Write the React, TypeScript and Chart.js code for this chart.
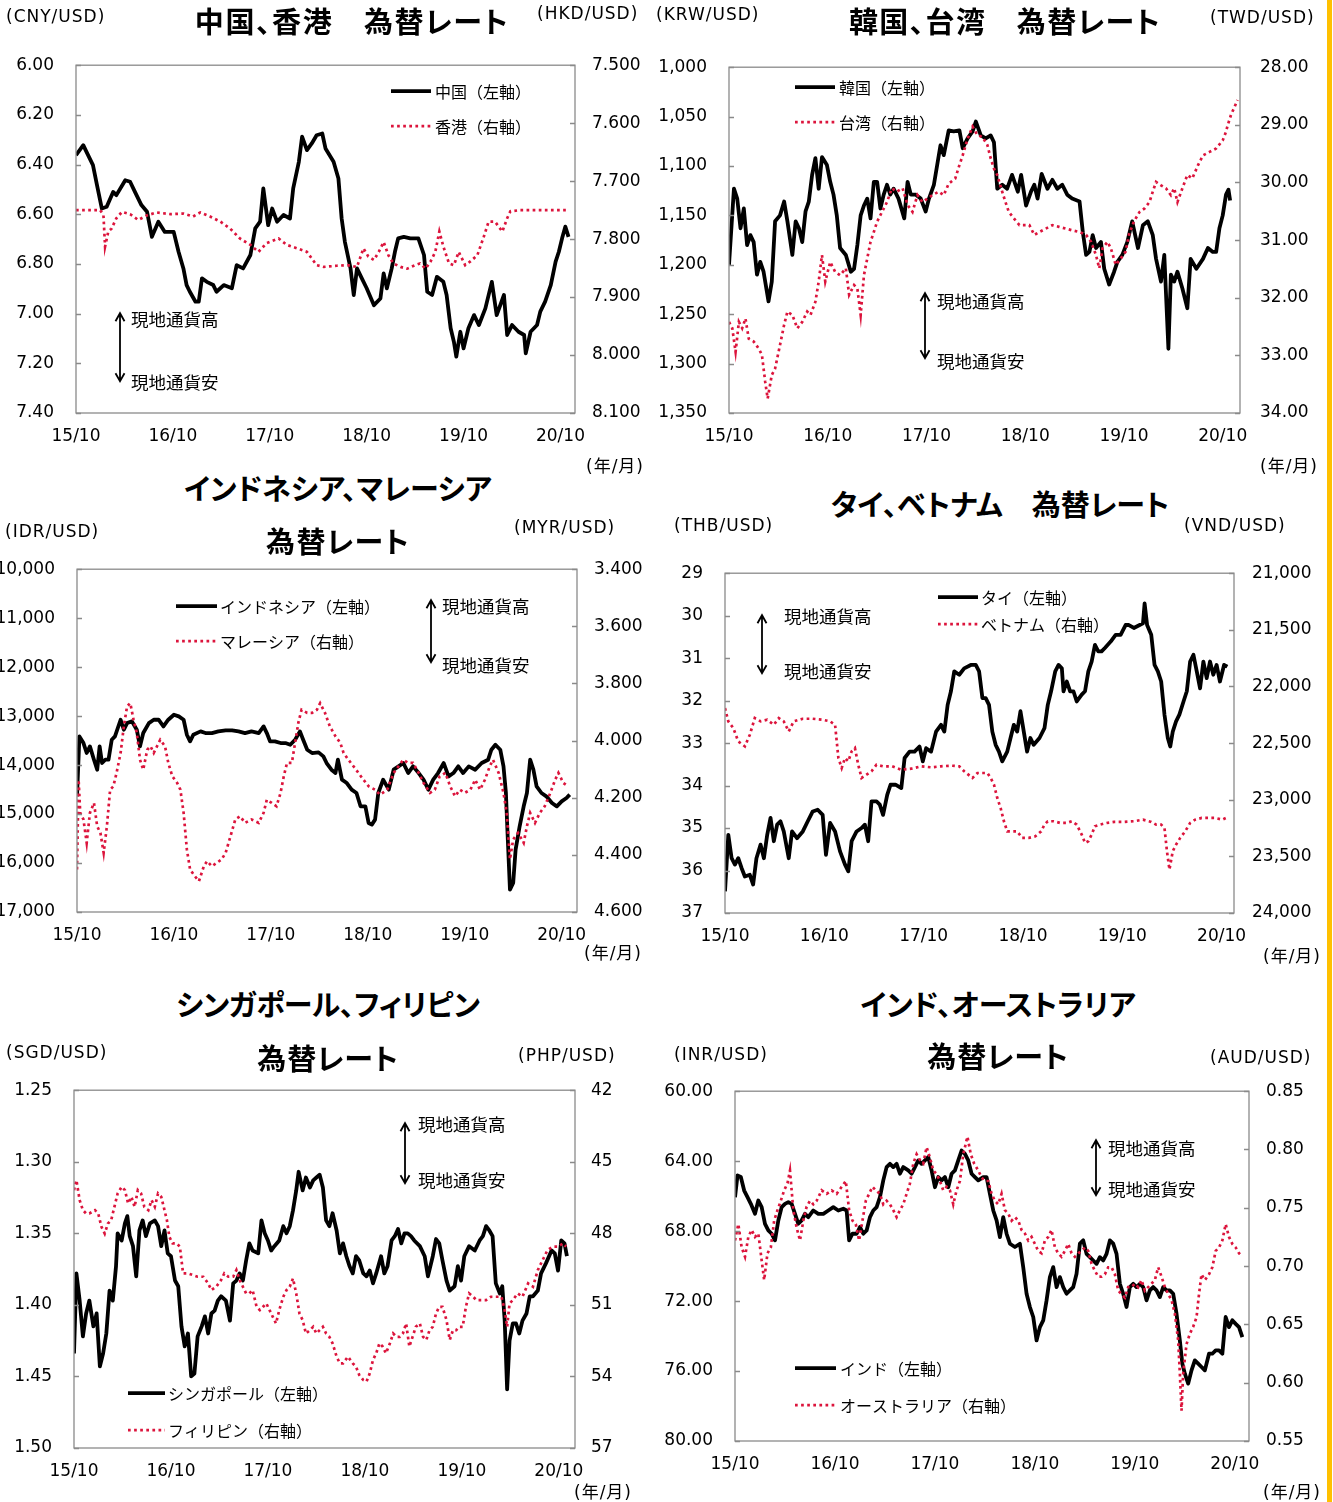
import React, { useEffect, useRef } from "react";
import { Chart, registerables } from "chart.js";

Chart.register(...registerables);

// ---------------------------------------------------------------------------
// Exchange-rate series. Each point is [months since 2015/10, rate vs USD].
// ---------------------------------------------------------------------------

const cnyRate: [number, number][] = [
  [0, 6.362], [0.9, 6.322], [1.3, 6.349], [2.1, 6.402], [2.6, 6.483], [3.2, 6.577], [3.8, 6.57], [4.6, 6.51], [5.0, 6.523], [6.1, 6.463],
  [6.7, 6.469], [7.3, 6.51], [8.1, 6.563], [8.8, 6.59], [9.4, 6.691], [10.2, 6.63], [11.0, 6.671], [12.1, 6.671], [12.7, 6.751], [13.3, 6.818],
  [13.7, 6.885], [14.1, 6.912], [14.8, 6.952], [15.2, 6.952], [15.6, 6.858], [16.2, 6.872], [17.0, 6.885], [17.4, 6.912], [18.3, 6.885], [19.3, 6.898],
  [19.9, 6.805], [20.7, 6.818], [21.6, 6.764], [22.2, 6.657], [22.8, 6.63], [23.2, 6.496], [23.8, 6.644], [24.3, 6.577], [24.9, 6.63], [25.7, 6.603],
  [26.5, 6.617], [26.9, 6.496], [27.6, 6.389], [28.0, 6.288], [28.6, 6.342], [29.2, 6.315], [29.8, 6.282], [30.5, 6.275], [30.9, 6.335], [31.9, 6.389],
  [32.5, 6.456], [32.9, 6.617], [33.3, 6.711], [34.0, 6.818], [34.4, 6.925], [34.8, 6.818], [35.4, 6.858], [36.0, 6.898], [36.9, 6.966], [37.7, 6.939],
  [38.1, 6.838], [38.5, 6.898], [39.1, 6.818], [39.5, 6.751], [39.9, 6.697], [40.6, 6.691], [41.4, 6.697], [42.4, 6.697], [43.1, 6.764], [43.5, 6.912],
  [44.1, 6.925], [44.7, 6.852], [45.5, 6.872], [45.9, 6.925], [46.4, 7.059], [46.8, 7.113], [47.1, 7.173], [47.6, 7.073], [48.0, 7.14], [48.6, 7.059],
  [49.3, 7.006], [49.9, 7.046], [50.7, 6.979], [51.5, 6.872], [52.1, 7.006], [53.0, 6.925], [53.4, 7.086], [54.0, 7.046], [54.8, 7.073], [55.5, 7.086],
  [55.7, 7.16], [56.3, 7.073], [57.1, 7.046], [57.5, 6.992], [58.1, 6.952], [58.8, 6.885], [59.4, 6.791], [59.8, 6.751], [60.2, 6.697], [60.6, 6.65],
  [61.0, 6.691],
];

const hkdRate: [number, number][] = [
  [0, 7.75], [3.0, 7.75], [3.4, 7.759], [3.6, 7.813], [4.0, 7.787], [4.4, 7.782], [5.0, 7.764], [5.7, 7.753], [6.7, 7.757], [7.7, 7.767],
  [8.8, 7.759], [10.0, 7.754], [11.7, 7.757], [13.3, 7.756], [14.5, 7.761], [15.4, 7.754], [16.6, 7.761], [17.9, 7.77], [19.1, 7.782], [20.3, 7.799],
  [21.6, 7.81], [22.6, 7.822], [23.6, 7.807], [25.1, 7.799], [26.1, 7.81], [27.4, 7.816], [28.6, 7.822], [29.8, 7.845], [30.7, 7.848], [32.3, 7.846],
  [33.6, 7.845], [34.8, 7.848], [35.6, 7.816], [36.2, 7.83], [36.9, 7.836], [37.5, 7.822], [38.1, 7.805], [38.7, 7.828], [39.3, 7.842], [40.2, 7.848],
  [41.0, 7.851], [42.0, 7.845], [42.6, 7.842], [43.3, 7.851], [43.9, 7.839], [44.5, 7.822], [45.0, 7.787], [45.5, 7.813], [46.2, 7.842], [46.8, 7.845],
  [47.4, 7.822], [48.2, 7.845], [48.8, 7.839], [49.7, 7.828], [50.5, 7.796], [51.1, 7.77], [51.9, 7.77], [52.8, 7.787], [53.4, 7.764], [53.8, 7.752],
  [55.0, 7.75], [57.1, 7.75], [60.8, 7.75],
];

const krwRate: [number, number][] = [
  [0, 1200], [0.6, 1123], [1.0, 1133], [1.4, 1163], [1.8, 1143], [2.2, 1180], [2.6, 1170], [3.0, 1177], [3.4, 1210], [3.8, 1197],
  [4.2, 1207], [4.8, 1237], [5.2, 1217], [5.6, 1156], [6.2, 1150], [6.7, 1136], [7.1, 1156], [7.7, 1190], [8.1, 1156], [8.5, 1163],
  [8.9, 1177], [9.3, 1146], [9.7, 1136], [10.1, 1109], [10.5, 1092], [10.9, 1123], [11.3, 1091], [11.9, 1099], [12.3, 1116], [12.7, 1129],
  [13.1, 1150], [13.5, 1183], [14.2, 1190], [14.8, 1207], [15.2, 1204], [15.6, 1180], [16.0, 1150], [16.4, 1140], [16.8, 1133], [17.2, 1153],
  [17.6, 1116], [18.0, 1116], [18.4, 1143], [18.8, 1129], [19.2, 1119], [19.6, 1129], [20.0, 1123], [20.6, 1133], [21.3, 1153], [21.7, 1116],
  [22.1, 1129], [22.7, 1129], [23.3, 1133], [23.9, 1146], [24.3, 1133], [24.9, 1119], [25.3, 1099], [25.7, 1079], [26.1, 1089], [26.7, 1064],
  [27.3, 1065], [28.0, 1064], [28.4, 1082], [29.0, 1072], [29.6, 1065], [30.0, 1055], [30.6, 1069], [31.2, 1072], [31.8, 1069], [32.2, 1076],
  [32.6, 1123], [33.2, 1119], [33.8, 1123], [34.4, 1109], [35.1, 1126], [35.5, 1109], [36.1, 1140], [36.7, 1126], [37.1, 1119], [37.5, 1133],
  [38.0, 1108], [38.7, 1123], [39.3, 1114], [39.9, 1123], [40.5, 1119], [41.1, 1129], [41.7, 1133], [42.6, 1136], [43.0, 1167], [43.4, 1190],
  [43.8, 1187], [44.2, 1170], [44.6, 1183], [45.2, 1177], [45.6, 1204], [46.2, 1220], [46.8, 1207], [47.2, 1197], [47.8, 1190], [48.4, 1177],
  [49.0, 1156], [49.7, 1183], [50.3, 1160], [50.9, 1156], [51.5, 1170], [51.9, 1194], [52.5, 1217], [52.9, 1190], [53.4, 1285], [53.7, 1210],
  [54.1, 1217], [54.5, 1207], [55.1, 1224], [55.7, 1244], [56.1, 1194], [56.8, 1204], [57.6, 1194], [58.2, 1183], [58.8, 1187], [59.2, 1187],
  [59.6, 1163], [60.0, 1150], [60.4, 1129], [60.7, 1124], [60.9, 1135],
];

const twdRate: [number, number][] = [
  [0, 32.42], [0.4, 32.53], [0.8, 32.94], [1.2, 32.42], [1.6, 32.53], [2.0, 32.36], [2.4, 32.71], [3.0, 32.76], [3.6, 32.88], [4.0, 32.99],
  [4.4, 33.46], [4.7, 33.75], [5.2, 33.34], [5.6, 33.23], [6.2, 32.82], [6.7, 32.47], [7.1, 32.24], [7.7, 32.3], [8.3, 32.53], [8.9, 32.42],
  [9.5, 32.24], [9.9, 32.3], [10.5, 32.07], [10.9, 31.72], [11.3, 31.26], [11.7, 31.72], [12.3, 31.38], [12.9, 31.55], [13.5, 31.61], [14.2, 31.49],
  [14.6, 31.95], [15.2, 31.78], [15.6, 31.84], [16.0, 32.3], [16.4, 31.61], [16.8, 31.32], [17.2, 31.03], [17.6, 30.86], [18.0, 30.68], [18.6, 30.51],
  [19.2, 30.34], [19.8, 30.1], [20.4, 30.16], [21.1, 30.1], [21.7, 30.39], [22.3, 30.51], [22.9, 30.22], [23.5, 30.34], [24.1, 30.28], [24.7, 30.22],
  [25.5, 30.16], [26.1, 30.22], [26.7, 30.02], [27.5, 29.93], [28.0, 29.7], [28.4, 29.53], [29.0, 29.24], [29.6, 29.03], [30.2, 29.18], [30.8, 29.21],
  [31.4, 29.35], [31.8, 29.58], [32.2, 29.76], [32.6, 29.87], [33.2, 30.16], [33.6, 30.34], [34.0, 30.51], [34.6, 30.62], [35.3, 30.74], [35.9, 30.74],
  [36.5, 30.74], [37.1, 30.91], [37.7, 30.86], [38.5, 30.8], [39.3, 30.74], [40.1, 30.77], [40.9, 30.8], [41.7, 30.83], [42.6, 30.86], [43.4, 30.91],
  [44.0, 31.03], [44.6, 31.26], [45.0, 31.49], [45.4, 31.14], [46.0, 31.03], [46.4, 31.14], [47.0, 31.43], [47.6, 31.32], [48.2, 31.2], [48.6, 30.91],
  [49.2, 30.68], [49.9, 30.51], [50.5, 30.45], [51.1, 30.34], [51.5, 30.16], [51.9, 29.99], [52.5, 30.05], [53.1, 30.1], [53.7, 30.22], [54.1, 30.1],
  [54.5, 30.34], [55.1, 30.1], [55.7, 29.87], [56.3, 29.93], [57.0, 29.7], [57.6, 29.53], [58.4, 29.47], [59.2, 29.41], [60.0, 29.27], [60.4, 29.12],
  [60.6, 29.01], [61.0, 28.83], [61.8, 28.57],
];

const idrRate: [number, number][] = [
  [0, 14638], [0.3, 13414], [0.8, 13550], [1.2, 13754], [1.6, 13618], [2.1, 13890], [2.5, 14094], [2.8, 13618], [3.1, 13958], [3.5, 13890],
  [3.9, 13890], [4.3, 13482], [4.7, 13414], [5.4, 13074], [5.8, 13278], [6.2, 13142], [6.8, 13108], [7.4, 13278], [7.8, 13618], [8.2, 13346],
  [8.9, 13142], [9.5, 13074], [10.1, 13074], [10.7, 13210], [11.3, 13074], [12.0, 12972], [12.6, 13006], [13.2, 13074], [13.6, 13380], [14.0, 13516],
  [14.4, 13380], [15.3, 13312], [15.9, 13346], [16.7, 13346], [17.5, 13312], [18.4, 13291], [19.2, 13291], [20.0, 13312], [20.8, 13346], [21.6, 13312],
  [22.5, 13346], [23.1, 13210], [23.5, 13346], [23.9, 13516], [24.5, 13516], [25.2, 13550], [25.8, 13550], [26.4, 13584], [27.0, 13482], [27.6, 13312],
  [28.0, 13482], [28.5, 13686], [29.1, 13754], [29.9, 13740], [30.5, 13822], [30.9, 13958], [31.5, 14094], [32.0, 14162], [32.3, 13890], [32.8, 14298],
  [33.4, 14366], [34.0, 14502], [34.6, 14570], [35.1, 14842], [35.7, 14842], [36.1, 15182], [36.5, 15216], [36.9, 15114], [37.3, 14570], [37.9, 14298],
  [38.6, 14502], [39.2, 14094], [39.8, 14026], [40.4, 13958], [41.0, 14162], [41.6, 14026], [42.3, 14162], [42.9, 14298], [43.5, 14502], [44.1, 14298],
  [44.7, 14162], [45.4, 13958], [46.0, 14230], [46.6, 14162], [47.2, 14026], [47.8, 14162], [48.5, 14026], [49.3, 14094], [50.1, 13958], [50.9, 13890],
  [51.3, 13686], [51.8, 13584], [52.4, 13686], [52.8, 14026], [53.1, 14570], [53.3, 15386], [53.6, 16542], [54.0, 16406], [54.3, 15726], [54.8, 15250],
  [55.3, 14842], [55.7, 14570], [56.1, 13890], [56.5, 14094], [56.9, 14434], [57.5, 14570], [58.1, 14638], [58.8, 14774], [59.4, 14842], [60.0, 14740],
  [60.6, 14672], [61.0, 14604],
];

const myrRate: [number, number][] = [
  [0, 4.451], [0.2, 4.137], [0.4, 4.253], [0.8, 4.276], [1.2, 4.358], [1.6, 4.253], [2.1, 4.218], [2.5, 4.3], [2.9, 4.323], [3.3, 4.393],
  [3.7, 4.3], [4.1, 4.172], [4.5, 4.16], [4.9, 4.113], [5.4, 4.043], [5.8, 3.95], [6.2, 3.88], [6.6, 3.869], [7.0, 3.927], [7.4, 3.973],
  [7.8, 4.067], [8.2, 4.102], [8.7, 4.032], [9.1, 4.02], [9.5, 4.043], [9.9, 4.02], [10.3, 3.997], [10.9, 4.02], [11.3, 4.078], [11.8, 4.125],
  [12.4, 4.148], [12.8, 4.172], [13.2, 4.253], [13.6, 4.381], [14.0, 4.451], [14.6, 4.475], [15.1, 4.492], [15.7, 4.44], [16.1, 4.422], [16.7, 4.44],
  [17.3, 4.428], [17.9, 4.416], [18.4, 4.393], [19.0, 4.335], [19.6, 4.276], [20.2, 4.265], [20.8, 4.288], [21.6, 4.276], [22.5, 4.288], [23.1, 4.253],
  [23.5, 4.207], [24.1, 4.218], [24.7, 4.23], [25.2, 4.183], [25.6, 4.125], [26.0, 4.078], [26.6, 4.078], [27.0, 4.008], [27.4, 3.938], [27.8, 3.892],
  [28.5, 3.903], [29.1, 3.903], [29.7, 3.892], [30.1, 3.869], [30.7, 3.903], [31.3, 3.95], [32.0, 3.985], [32.6, 4.008], [33.0, 4.043], [33.6, 4.067],
  [34.4, 4.096], [35.3, 4.131], [36.1, 4.16], [36.9, 4.172], [37.5, 4.189], [38.4, 4.172], [39.2, 4.113], [39.8, 4.09], [40.4, 4.067], [41.0, 4.078],
  [41.6, 4.078], [42.3, 4.113], [42.9, 4.148], [43.7, 4.183], [44.3, 4.172], [44.9, 4.125], [45.6, 4.113], [46.2, 4.16], [46.8, 4.195], [47.4, 4.172],
  [48.0, 4.183], [48.7, 4.172], [49.3, 4.137], [49.9, 4.172], [50.5, 4.137], [51.1, 4.09], [51.5, 4.067], [52.2, 4.113], [52.8, 4.183], [53.2, 4.253],
  [53.6, 4.416], [54.0, 4.346], [54.6, 4.323], [55.3, 4.358], [55.7, 4.3], [56.1, 4.253], [56.7, 4.288], [57.3, 4.253], [57.9, 4.23], [58.6, 4.183],
  [59.2, 4.137], [59.6, 4.113], [60.2, 4.148], [60.8, 4.16],
];

const thbRate: [number, number][] = [
  [0, 36.49], [0.4, 35.16], [0.8, 35.71], [1.2, 35.86], [1.6, 35.71], [2.0, 35.94], [2.4, 36.14], [3.0, 36.1], [3.4, 36.33], [3.8, 35.71],
  [4.3, 35.39], [4.7, 35.71], [5.1, 35.16], [5.5, 34.76], [5.9, 35.31], [6.3, 34.92], [6.7, 34.84], [7.1, 35.08], [7.7, 35.71], [8.1, 35.08],
  [8.7, 35.24], [9.4, 35.08], [10.0, 34.84], [10.6, 34.61], [11.2, 34.57], [11.8, 34.69], [12.2, 35.63], [12.7, 34.88], [13.3, 35.08], [13.9, 35.55],
  [14.5, 35.86], [14.9, 36.02], [15.3, 35.31], [15.9, 35.08], [16.5, 35.0], [16.9, 34.92], [17.3, 35.31], [17.7, 34.37], [18.3, 34.37], [18.7, 34.45],
  [19.1, 34.69], [19.6, 34.22], [20.0, 33.98], [20.6, 33.98], [21.3, 34.06], [21.7, 33.35], [22.3, 33.2], [22.9, 33.2], [23.5, 33.08], [23.9, 33.43],
  [24.3, 33.12], [24.9, 33.2], [25.5, 32.73], [26.1, 32.57], [26.5, 32.73], [26.9, 32.1], [27.3, 31.78], [27.7, 31.31], [28.3, 31.39], [28.9, 31.24],
  [29.7, 31.16], [30.3, 31.16], [30.7, 31.31], [31.1, 31.94], [31.5, 31.94], [31.9, 32.1], [32.3, 32.73], [32.7, 33.04], [33.1, 33.2], [33.5, 33.43],
  [34.1, 33.2], [34.5, 32.88], [34.9, 32.57], [35.3, 32.73], [35.7, 32.25], [36.1, 32.73], [36.5, 33.2], [36.9, 32.88], [37.3, 33.04], [38.0, 32.88],
  [38.6, 32.65], [39.0, 32.1], [39.4, 31.78], [39.9, 31.31], [40.3, 31.16], [40.7, 31.24], [40.9, 31.78], [41.3, 31.55], [41.7, 31.78], [42.1, 31.78],
  [42.5, 32.02], [43.1, 31.86], [43.5, 31.78], [43.9, 31.31], [44.3, 31.08], [44.7, 30.69], [45.1, 30.84], [45.5, 30.84], [45.9, 30.76], [46.6, 30.61],
  [47.2, 30.45], [47.8, 30.45], [48.4, 30.22], [48.8, 30.22], [49.4, 30.29], [50.1, 30.22], [50.5, 30.18], [50.7, 29.71], [51.0, 30.22], [51.5, 30.45],
  [51.9, 31.16], [52.3, 31.31], [52.7, 31.55], [53.1, 32.33], [53.5, 32.88], [53.8, 33.08], [54.1, 32.73], [54.5, 32.49], [54.9, 32.33], [55.4, 32.02],
  [55.8, 31.78], [56.2, 31.08], [56.6, 30.92], [57.0, 31.31], [57.4, 31.71], [57.8, 31.08], [58.2, 31.47], [58.6, 31.08], [59.0, 31.39], [59.4, 31.16],
  [59.8, 31.55], [60.3, 31.16], [60.7, 31.2],
];

const vndRate: [number, number][] = [
  [0, 22191], [0.4, 22308], [1.0, 22367], [1.6, 22485], [2.4, 22529], [3.0, 22426], [3.6, 22279], [4.3, 22308], [5.1, 22294], [5.9, 22338],
  [6.5, 22279], [7.1, 22308], [7.7, 22397], [8.3, 22308], [9.4, 22285], [10.6, 22285], [11.8, 22294], [12.7, 22308], [13.3, 22338], [13.7, 22632],
  [14.1, 22720], [14.5, 22632], [14.9, 22661], [15.3, 22573], [15.7, 22544], [16.1, 22691], [16.5, 22808], [17.1, 22779], [17.7, 22749], [18.3, 22691],
  [19.1, 22705], [20.2, 22705], [21.3, 22735], [22.5, 22726], [23.7, 22705], [24.9, 22714], [26.1, 22705], [27.3, 22699], [28.3, 22705], [28.9, 22749],
  [29.9, 22808], [30.5, 22764], [31.1, 22764], [31.7, 22764], [32.1, 22808], [32.5, 22867], [32.9, 22985], [33.3, 23073], [33.7, 23190], [34.1, 23279],
  [34.7, 23279], [35.3, 23279], [35.9, 23337], [36.7, 23337], [37.5, 23323], [38.2, 23279], [38.6, 23220], [39.0, 23190], [39.7, 23190], [40.5, 23205],
  [41.3, 23205], [41.9, 23190], [42.5, 23220], [43.1, 23308], [43.5, 23381], [43.9, 23367], [44.3, 23308], [44.7, 23234], [45.3, 23220], [46.1, 23205],
  [47.0, 23196], [48.2, 23196], [49.4, 23190], [50.5, 23176], [51.5, 23196], [52.1, 23220], [52.7, 23220], [53.1, 23249], [53.4, 23455], [53.7, 23617],
  [54.1, 23455], [54.5, 23396], [55.0, 23337], [55.6, 23279], [56.2, 23205], [56.8, 23176], [57.6, 23161], [58.4, 23161], [59.2, 23161], [60.1, 23176],
  [60.7, 23155],
];

const sgdRate: [number, number][] = [
  [0, 1.434], [0.3, 1.378], [0.7, 1.397], [1.1, 1.422], [1.5, 1.406], [1.9, 1.397], [2.4, 1.415], [2.8, 1.406], [3.2, 1.443], [3.6, 1.434],
  [4.0, 1.42], [4.4, 1.39], [4.8, 1.397], [5.2, 1.373], [5.4, 1.35], [5.9, 1.355], [6.3, 1.343], [6.6, 1.338], [6.9, 1.352], [7.3, 1.359],
  [7.7, 1.38], [8.1, 1.348], [8.5, 1.341], [8.9, 1.352], [9.4, 1.343], [10.0, 1.341], [10.4, 1.345], [10.8, 1.359], [11.2, 1.348], [11.6, 1.364],
  [12.0, 1.366], [12.5, 1.383], [12.9, 1.387], [13.3, 1.415], [13.7, 1.429], [14.1, 1.42], [14.5, 1.45], [14.9, 1.448], [15.3, 1.422], [15.8, 1.415],
  [16.2, 1.408], [16.6, 1.42], [17.0, 1.406], [17.4, 1.404], [17.8, 1.397], [18.2, 1.394], [18.8, 1.397], [19.3, 1.411], [19.7, 1.385], [20.1, 1.383],
  [20.5, 1.378], [20.9, 1.383], [21.3, 1.369], [21.7, 1.357], [22.1, 1.362], [22.8, 1.364], [23.2, 1.341], [23.6, 1.35], [24.0, 1.355], [24.4, 1.362],
  [24.8, 1.359], [25.4, 1.355], [25.9, 1.345], [26.3, 1.35], [26.7, 1.345], [27.1, 1.334], [27.5, 1.32], [27.8, 1.307], [28.3, 1.32], [28.7, 1.311],
  [29.2, 1.318], [29.6, 1.313], [30.0, 1.311], [30.4, 1.309], [30.8, 1.318], [31.2, 1.341], [31.6, 1.345], [32.0, 1.336], [32.5, 1.348], [32.9, 1.364],
  [33.3, 1.357], [33.7, 1.366], [34.1, 1.373], [34.5, 1.378], [34.9, 1.366], [35.3, 1.369], [35.8, 1.378], [36.2, 1.38], [36.6, 1.376], [37.0, 1.385],
  [37.4, 1.378], [38.0, 1.366], [38.4, 1.378], [38.8, 1.373], [39.3, 1.355], [39.7, 1.352], [40.1, 1.347], [40.5, 1.357], [40.9, 1.35], [41.3, 1.35],
  [41.7, 1.352], [42.1, 1.355], [42.8, 1.359], [43.4, 1.366], [43.8, 1.38], [44.4, 1.366], [44.8, 1.354], [45.2, 1.357], [45.6, 1.369], [46.1, 1.383],
  [46.5, 1.39], [47.1, 1.387], [47.5, 1.373], [47.9, 1.383], [48.3, 1.366], [48.9, 1.359], [49.6, 1.362], [50.2, 1.355], [50.6, 1.352], [51.0, 1.345],
  [51.4, 1.348], [51.8, 1.352], [52.2, 1.385], [52.7, 1.392], [53.0, 1.387], [53.3, 1.411], [53.6, 1.459], [53.9, 1.425], [54.3, 1.413], [54.7, 1.413],
  [55.1, 1.42], [55.5, 1.411], [56.0, 1.406], [56.4, 1.394], [56.8, 1.394], [57.4, 1.39], [57.8, 1.378], [58.4, 1.371], [59.1, 1.362], [59.5, 1.364],
  [59.9, 1.376], [60.3, 1.355], [60.7, 1.357], [61.0, 1.366],
];

const phpRate: [number, number][] = [
  [0, 46.19], [0.3, 45.77], [0.7, 46.61], [1.1, 47.03], [1.5, 47.17], [1.9, 47.17], [2.6, 47.03], [3.0, 47.17], [3.4, 47.73], [3.8, 48.01],
  [4.2, 47.59], [4.6, 47.45], [5.0, 46.89], [5.4, 46.33], [5.9, 46.05], [6.3, 46.19], [6.7, 46.75], [7.1, 46.47], [7.5, 46.89], [7.9, 46.19],
  [8.3, 46.33], [8.7, 46.89], [9.2, 47.03], [9.6, 46.61], [10.0, 46.89], [10.4, 46.33], [10.8, 46.47], [11.2, 47.03], [11.5, 47.45], [11.8, 48.15],
  [12.2, 48.42], [12.7, 48.42], [13.1, 48.56], [13.5, 49.68], [14.1, 49.68], [14.7, 49.75], [15.3, 49.82], [16.0, 49.82], [16.6, 50.1], [17.0, 50.38],
  [17.6, 50.24], [18.2, 49.96], [18.6, 49.68], [19.1, 49.82], [19.7, 49.82], [20.1, 49.54], [20.5, 49.96], [20.9, 50.24], [21.3, 50.52], [21.7, 50.52],
  [22.1, 50.38], [22.6, 51.08], [23.0, 51.22], [23.4, 51.08], [23.8, 50.94], [24.2, 51.22], [24.6, 51.5], [25.0, 51.78], [25.4, 51.22], [25.9, 50.66],
  [26.3, 50.38], [26.7, 50.24], [27.1, 49.89], [27.5, 50.52], [27.9, 51.36], [28.3, 51.64], [28.7, 52.2], [29.2, 52.06], [29.6, 51.92], [30.0, 52.2],
  [30.4, 52.06], [30.8, 51.92], [31.2, 52.2], [31.6, 52.34], [32.0, 52.61], [32.5, 53.17], [32.9, 53.45], [33.3, 53.45], [33.9, 53.17], [34.5, 53.45],
  [34.9, 53.59], [35.3, 53.94], [35.8, 54.15], [36.2, 54.22], [36.6, 53.87], [37.0, 53.31], [37.4, 53.03], [37.8, 52.61], [38.2, 52.75], [38.6, 53.03],
  [39.1, 52.61], [39.5, 52.2], [39.9, 52.34], [40.3, 52.34], [40.7, 52.2], [41.1, 51.78], [41.5, 52.75], [41.9, 52.34], [42.3, 51.92], [42.8, 51.78],
  [43.2, 52.34], [43.6, 52.47], [44.0, 52.06], [44.4, 51.92], [44.8, 51.36], [45.2, 51.08], [45.6, 51.08], [46.1, 51.64], [46.5, 52.47], [46.9, 52.06],
  [47.3, 52.06], [47.7, 51.92], [48.1, 51.92], [48.5, 51.08], [48.9, 50.52], [49.4, 50.66], [49.8, 50.8], [50.4, 50.8], [51.0, 50.8], [51.6, 50.66],
  [52.2, 50.66], [52.9, 50.66], [53.3, 51.22], [53.6, 51.92], [53.9, 50.94], [54.3, 50.8], [54.9, 50.52], [55.5, 50.66], [56.2, 50.1], [56.8, 50.24],
  [57.4, 49.54], [58.0, 49.12], [58.6, 48.7], [59.3, 48.56], [59.9, 48.56], [60.5, 48.42], [60.9, 48.56],
];

const inrRate: [number, number][] = [
  [0, 66.06], [0.3, 64.82], [0.7, 64.91], [1.1, 65.68], [1.5, 66.06], [1.9, 66.44], [2.4, 67.01], [2.8, 66.25], [3.2, 66.63], [3.6, 67.58],
  [4.0, 67.96], [4.4, 68.15], [4.8, 68.53], [5.2, 67.39], [5.6, 66.63], [6.0, 66.44], [6.4, 66.34], [6.8, 66.44], [7.2, 67.01], [7.6, 67.58],
  [8.0, 67.39], [8.4, 67.01], [8.8, 67.2], [9.4, 66.82], [10.0, 67.01], [10.6, 67.01], [11.2, 66.82], [11.8, 66.63], [12.4, 66.82], [13.0, 66.72],
  [13.4, 66.82], [13.7, 68.53], [14.1, 68.15], [14.6, 68.15], [15.0, 67.77], [15.4, 68.15], [15.8, 67.96], [16.2, 67.2], [16.6, 66.82], [17.0, 66.63],
  [17.4, 66.06], [17.8, 65.1], [18.2, 64.34], [18.6, 64.15], [19.0, 64.34], [19.4, 64.15], [19.8, 64.72], [20.2, 64.34], [20.8, 64.53], [21.2, 64.72],
  [21.6, 64.34], [22.0, 63.96], [22.4, 64.15], [22.8, 63.96], [23.2, 63.77], [23.6, 64.53], [24.0, 65.49], [24.4, 64.91], [24.8, 65.1], [25.2, 64.91],
  [25.6, 65.49], [26.0, 64.72], [26.4, 64.53], [26.8, 63.96], [27.2, 63.39], [27.6, 63.58], [28.0, 63.96], [28.4, 64.72], [28.8, 64.91], [29.2, 65.1],
  [29.8, 64.91], [30.2, 64.91], [30.6, 65.87], [31.0, 66.82], [31.4, 67.39], [31.8, 68.34], [32.2, 67.2], [32.6, 68.15], [33.0, 68.72], [33.6, 68.91],
  [34.2, 68.72], [34.6, 70.06], [35.0, 71.58], [35.4, 72.34], [35.8, 72.91], [36.2, 74.25], [36.6, 73.49], [37.0, 73.1], [37.4, 71.96], [37.8, 70.63],
  [38.2, 70.06], [38.6, 71.2], [39.0, 70.63], [39.4, 71.2], [39.8, 71.58], [40.2, 71.39], [40.6, 71.2], [41.0, 70.44], [41.4, 68.72], [41.8, 68.53],
  [42.2, 69.3], [42.6, 69.49], [43.0, 69.68], [43.4, 69.87], [43.8, 69.49], [44.2, 69.68], [44.6, 69.3], [45.0, 68.53], [45.4, 68.72], [45.8, 69.3],
  [46.2, 71.01], [46.6, 71.58], [47.0, 72.34], [47.4, 71.2], [47.8, 71.01], [48.2, 71.2], [48.6, 71.01], [49.0, 71.2], [49.4, 71.96], [49.8, 71.39],
  [50.2, 71.2], [50.6, 71.39], [51.0, 71.77], [51.4, 71.2], [51.8, 71.39], [52.2, 71.39], [52.6, 71.58], [53.0, 72.72], [53.4, 74.25], [53.7, 75.58],
  [54.0, 76.15], [54.4, 76.72], [54.8, 75.96], [55.2, 75.39], [55.6, 75.58], [56.0, 75.77], [56.4, 75.96], [56.9, 75.01], [57.3, 75.01], [57.7, 74.82],
  [58.1, 74.82], [58.5, 75.01], [58.9, 72.91], [59.3, 73.49], [59.7, 73.1], [60.1, 73.3], [60.5, 73.49], [60.9, 74.06],
];

const audRate: [number, number][] = [
  [0, 0.722], [0.4, 0.736], [0.8, 0.716], [1.2, 0.708], [1.6, 0.725], [2.0, 0.731], [2.4, 0.725], [2.8, 0.728], [3.2, 0.705], [3.5, 0.688],
  [3.9, 0.711], [4.3, 0.716], [4.7, 0.739], [5.1, 0.748], [5.5, 0.756], [5.9, 0.765], [6.3, 0.771], [6.6, 0.782], [7.0, 0.748], [7.4, 0.733],
  [7.8, 0.722], [8.2, 0.739], [8.6, 0.751], [9.0, 0.756], [9.4, 0.753], [9.8, 0.756], [10.4, 0.765], [11.0, 0.762], [11.6, 0.765], [12.2, 0.762],
  [12.8, 0.768], [13.3, 0.773], [13.7, 0.748], [14.1, 0.739], [14.5, 0.736], [14.9, 0.722], [15.3, 0.739], [15.7, 0.756], [16.1, 0.762], [16.5, 0.768],
  [16.9, 0.765], [17.4, 0.762], [17.8, 0.753], [18.2, 0.756], [18.6, 0.753], [19.0, 0.748], [19.4, 0.742], [19.8, 0.748], [20.2, 0.753], [20.6, 0.762],
  [21.0, 0.771], [21.4, 0.788], [21.8, 0.796], [22.2, 0.791], [22.6, 0.788], [23.0, 0.802], [23.4, 0.793], [23.8, 0.782], [24.2, 0.779], [24.6, 0.773],
  [25.0, 0.765], [25.4, 0.768], [25.8, 0.765], [26.2, 0.753], [26.6, 0.765], [27.0, 0.773], [27.4, 0.796], [27.7, 0.805], [27.9, 0.811], [28.3, 0.796],
  [28.7, 0.788], [29.2, 0.782], [29.6, 0.776], [30.0, 0.773], [30.4, 0.773], [30.8, 0.762], [31.2, 0.756], [31.6, 0.753], [32.0, 0.762], [32.4, 0.748],
  [32.8, 0.745], [33.2, 0.739], [33.6, 0.742], [34.0, 0.739], [34.4, 0.731], [34.8, 0.728], [35.2, 0.722], [35.6, 0.725], [36.0, 0.719], [36.4, 0.713],
  [36.8, 0.711], [37.2, 0.722], [37.6, 0.725], [38.0, 0.731], [38.4, 0.716], [38.8, 0.711], [39.2, 0.708], [39.6, 0.713], [40.0, 0.719], [40.4, 0.711],
  [40.8, 0.708], [41.2, 0.711], [41.6, 0.713], [42.0, 0.716], [42.4, 0.713], [42.8, 0.702], [43.2, 0.696], [43.6, 0.691], [44.0, 0.691], [44.4, 0.693],
  [44.8, 0.699], [45.2, 0.699], [45.6, 0.693], [46.0, 0.679], [46.4, 0.676], [46.8, 0.673], [47.2, 0.682], [47.6, 0.682], [48.0, 0.685], [48.4, 0.682],
  [48.8, 0.688], [49.2, 0.679], [49.6, 0.682], [50.0, 0.685], [50.4, 0.688], [50.8, 0.699], [51.2, 0.691], [51.6, 0.682], [52.0, 0.676], [52.4, 0.671],
  [52.8, 0.659], [53.2, 0.636], [53.4, 0.608], [53.6, 0.576], [53.8, 0.608], [54.2, 0.633], [54.6, 0.642], [55.0, 0.648], [55.4, 0.656], [55.7, 0.676],
  [56.0, 0.693], [56.4, 0.688], [56.9, 0.693], [57.3, 0.699], [57.7, 0.713], [58.1, 0.716], [58.5, 0.722], [58.9, 0.736], [59.3, 0.725], [59.7, 0.719],
  [60.1, 0.716], [60.5, 0.711], [60.9, 0.708],
];

// Axis ticks
const xTickMonths = [0, 12, 24, 36, 48, 60];
const xTickLabels = ["15/10", "16/10", "17/10", "18/10", "19/10", "20/10"];

const cnyTicks = [6.0, 6.2, 6.4, 6.6, 6.8, 7.0, 7.2, 7.4];
const hkdTicks = [7.5, 7.6, 7.7, 7.8, 7.9, 8.0, 8.1];
const krwTicks = [1000, 1050, 1100, 1150, 1200, 1250, 1300, 1350];
const twdTicks = [28, 29, 30, 31, 32, 33, 34];
const idrTicks = [10000, 11000, 12000, 13000, 14000, 15000, 16000, 17000];
const myrTicks = [3.4, 3.6, 3.8, 4.0, 4.2, 4.4, 4.6];
const thbTicks = [29, 30, 31, 32, 33, 34, 35, 36, 37];
const vndTicks = [21000, 21500, 22000, 22500, 23000, 23500, 24000];
const sgdTicks = [1.25, 1.3, 1.35, 1.4, 1.45, 1.5];
const phpTicks = [42, 45, 48, 51, 54, 57];
const inrTicks = [60, 64, 68, 72, 76, 80];
const audTicks = [0.55, 0.6, 0.65, 0.7, 0.75, 0.8, 0.85];

// ---------------------------------------------------------------------------
// Styling
// ---------------------------------------------------------------------------
const RED = "#DC143C";
const FRAME = "#8a8a8a";
const TICK_FONT = { family: "'DejaVu Sans', Verdana, sans-serif", size: 17 };
const JP = "'Noto Sans CJK JP', sans-serif";
const LATIN = "'DejaVu Sans', Verdana, sans-serif";

const AX_W = 90; // width reserved for each y axis
const AX_H = 45; // height reserved for the x axis
const PAD_T = 20;

type Fmt = "c" | number; // "c" = thousands separators, number = decimals
const fmt = (v: number, f: Fmt) =>
  f === "c" ? Math.round(v).toLocaleString("en-US") : v.toFixed(f);

type AxisDef = { series: [number, number][]; ticks: number[]; fmt: Fmt; reverse: boolean; name: string; pad: number };
type PanelDef = {
  plot: { l: number; t: number; r: number; b: number };
  xMax: number;
  left: AxisDef;
  right: AxisDef;
  legend: { x0: number; x1: number; tx: number; y0: number; y1: number };
  arrow: { x: number; y0: number; y1: number; tx: number; ty0: number; ty1: number };
};

const panels: PanelDef[] = [
  {
    plot: { l: 76, t: 65, r: 575, b: 413 }, xMax: 61.8,
    left: { series: cnyRate, ticks: cnyTicks, fmt: 2, reverse: true, name: "中国", pad: 22 },
    right: { series: hkdRate, ticks: hkdTicks, fmt: 3, reverse: true, name: "香港", pad: 17 },
    legend: { x0: 315, x1: 355, tx: 359, y0: 26, y1: 61 },
    arrow: { x: 44, y0: 248, y1: 316, tx: 55, ty0: 253, ty1: 316 },
  },
  {
    plot: { l: 729, t: 67, r: 1240, b: 413 }, xMax: 62.1,
    left: { series: krwRate, ticks: krwTicks, fmt: "c", reverse: true, name: "韓国", pad: 22 },
    right: { series: twdRate, ticks: twdTicks, fmt: 2, reverse: true, name: "台湾", pad: 20 },
    legend: { x0: 66, x1: 106, tx: 110, y0: 20, y1: 55 },
    arrow: { x: 196, y0: 226, y1: 291, tx: 208, ty0: 233, ty1: 293 },
  },
  {
    plot: { l: 77, t: 569, r: 577, b: 912 }, xMax: 61.9,
    left: { series: idrRate, ticks: idrTicks, fmt: "c", reverse: true, name: "インドネシア", pad: 22 },
    right: { series: myrRate, ticks: myrTicks, fmt: 3, reverse: true, name: "マレーシア", pad: 17 },
    legend: { x0: 99, x1: 140, tx: 143, y0: 37, y1: 72 },
    arrow: { x: 354, y0: 31, y1: 93, tx: 365, ty0: 36, ty1: 95 },
  },
  {
    plot: { l: 725, t: 573, r: 1234, b: 913 }, xMax: 61.5,
    left: { series: thbRate, ticks: thbTicks, fmt: 0, reverse: true, name: "タイ", pad: 22 },
    right: { series: vndRate, ticks: vndTicks, fmt: "c", reverse: true, name: "ベトナム", pad: 18 },
    legend: { x0: 213, x1: 253, tx: 256, y0: 24, y1: 51 },
    arrow: { x: 37, y0: 42, y1: 100, tx: 59, ty0: 42, ty1: 97 },
  },
  {
    plot: { l: 74, t: 1090, r: 575, b: 1448 }, xMax: 62.0,
    left: { series: sgdRate, ticks: sgdTicks, fmt: 2, reverse: true, name: "シンガポール", pad: 22 },
    right: { series: phpRate, ticks: phpTicks, fmt: 0, reverse: true, name: "フィリピン", pad: 16 },
    legend: { x0: 54, x1: 91, tx: 94, y0: 303, y1: 340 },
    arrow: { x: 331, y0: 33, y1: 93, tx: 344, ty0: 33, ty1: 89 },
  },
  {
    plot: { l: 735, t: 1091, r: 1249, b: 1441 }, xMax: 61.7,
    left: { series: inrRate, ticks: inrTicks, fmt: 2, reverse: true, name: "インド", pad: 22 },
    right: { series: audRate, ticks: audTicks, fmt: 2, reverse: false, name: "オーストラリア", pad: 17 },
    legend: { x0: 60, x1: 101, tx: 105, y0: 277, y1: 314 },
    arrow: { x: 361, y0: 49, y1: 104, tx: 373, ty0: 56, ty1: 97 },
  },
];

// Titles, unit captions and the (年/月) captions around each panel
const titles: { text: string; x: number; y: number; sp: number }[] = [
  { text: "中国、香港　為替レート", x: 352, y: 20, sp: 1.6 },
  { text: "韓国、台湾　為替レート", x: 1005, y: 20, sp: 1.4 },
  { text: "インドネシア、マレーシア", x: 338, y: 487, sp: 0 },
  { text: "為替レート", x: 338, y: 540, sp: 1.3 },
  { text: "タイ、ベトナム　為替レート", x: 1000, y: 503, sp: 0 },
  { text: "シンガポール、フィリピン", x: 328, y: 1003, sp: -0.3 },
  { text: "為替レート", x: 328, y: 1057, sp: 0.8 },
  { text: "インド、オーストラリア", x: 998, y: 1003, sp: 0 },
  { text: "為替レート", x: 998, y: 1055, sp: 0.8 },
];

const captions: { text: string; x: number; y: number }[] = [
  { text: "(CNY/USD)", x: 6, y: 16 },
  { text: "(HKD/USD)", x: 537, y: 13 },
  { text: "(KRW/USD)", x: 656, y: 14 },
  { text: "(TWD/USD)", x: 1210, y: 17 },
  { text: "(IDR/USD)", x: 5, y: 531 },
  { text: "(MYR/USD)", x: 514, y: 527 },
  { text: "(THB/USD)", x: 674, y: 525 },
  { text: "(VND/USD)", x: 1184, y: 525 },
  { text: "(SGD/USD)", x: 6, y: 1052 },
  { text: "(PHP/USD)", x: 518, y: 1055 },
  { text: "(INR/USD)", x: 674, y: 1054 },
  { text: "(AUD/USD)", x: 1210, y: 1057 },
  { text: "(年/月)", x: 586, y: 466 },
  { text: "(年/月)", x: 1260, y: 466 },
  { text: "(年/月)", x: 584, y: 953 },
  { text: "(年/月)", x: 1263, y: 956 },
  { text: "(年/月)", x: 574, y: 1492 },
  { text: "(年/月)", x: 1263, y: 1492 },
];

// Frame, inward tick marks, in-plot legend and the currency-direction arrow
function makeDecor(p: PanelDef) {
  return {
    id: "panelDecor",
    afterDatasetsDraw(chart: any) {
      const { ctx, chartArea: a } = chart;
      const yL = chart.scales.yL;
      const yR = chart.scales.yR;
      ctx.save();

      ctx.strokeStyle = FRAME;
      ctx.lineWidth = 1.3;
      ctx.setLineDash([]);
      ctx.strokeRect(a.left, a.top, a.right - a.left, a.bottom - a.top);
      ctx.beginPath();
      yL.ticks.forEach((t: any) => {
        const y = Math.round(yL.getPixelForValue(t.value)) + 0.5;
        ctx.moveTo(a.left, y);
        ctx.lineTo(a.left + 5, y);
      });
      yR.ticks.forEach((t: any) => {
        const y = Math.round(yR.getPixelForValue(t.value)) + 0.5;
        ctx.moveTo(a.right, y);
        ctx.lineTo(a.right - 5, y);
      });
      ctx.stroke();

      // legend
      const ds = chart.data.datasets;
      const items = [
        { d: ds.find((d: any) => d.yAxisID === "yL"), y: p.legend.y0 },
        { d: ds.find((d: any) => d.yAxisID === "yR"), y: p.legend.y1 },
      ];
      ctx.font = `16px ${JP}`;
      ctx.textBaseline = "middle";
      ctx.textAlign = "left";
      items.forEach(({ d, y }) => {
        const yy = a.top + y;
        ctx.beginPath();
        ctx.strokeStyle = d.borderColor;
        ctx.lineWidth = d.borderWidth;
        ctx.setLineDash(d.borderDash || []);
        ctx.moveTo(a.left + p.legend.x0, yy);
        ctx.lineTo(a.left + p.legend.x1, yy);
        ctx.stroke();
        ctx.fillStyle = "#000";
        ctx.fillText(d.label, a.left + p.legend.tx, yy + 1);
      });

      // arrow: local currency up / down
      const ar = p.arrow;
      const ax = a.left + ar.x;
      const top = a.top + ar.y0;
      const bot = a.top + ar.y1;
      ctx.setLineDash([]);
      ctx.strokeStyle = "#000";
      ctx.lineWidth = 1.8;
      ctx.beginPath();
      ctx.moveTo(ax, top + 1);
      ctx.lineTo(ax, bot - 1);
      ctx.moveTo(ax - 4.5, top + 8);
      ctx.lineTo(ax, top);
      ctx.lineTo(ax + 4.5, top + 8);
      ctx.moveTo(ax - 4.5, bot - 8);
      ctx.lineTo(ax, bot);
      ctx.lineTo(ax + 4.5, bot - 8);
      ctx.stroke();
      ctx.fillStyle = "#000";
      ctx.font = `17.5px ${JP}`;
      ctx.fillText("現地通貨高", a.left + ar.tx, a.top + ar.ty0 + 1);
      ctx.fillText("現地通貨安", a.left + ar.tx, a.top + ar.ty1 + 1);

      ctx.restore();
    },
  };
}

function yScale(ax: AxisDef, position: "left" | "right") {
  return {
    type: "linear",
    position,
    reverse: ax.reverse,
    min: Math.min(...ax.ticks),
    max: Math.max(...ax.ticks),
    grid: { display: false, drawTicks: false },
    border: { display: false },
    afterBuildTicks: (s: any) => {
      s.ticks = ax.ticks.map((v) => ({ value: v }));
    },
    afterFit: (s: any) => {
      s.width = AX_W;
    },
    ticks: {
      autoSkip: false,
      padding: ax.pad,
      color: "#000",
      font: TICK_FONT,
      callback: (v: number) => fmt(v, ax.fmt),
    },
  };
}

function Panel({ p }: { p: PanelDef }) {
  const ref = useRef<HTMLCanvasElement>(null);
  const w = p.plot.r - p.plot.l + AX_W * 2;
  const h = p.plot.b - p.plot.t + PAD_T + AX_H;

  useEffect(() => {
    const canvas = ref.current;
    if (!canvas) return;
    const chart = new Chart(canvas, {
      type: "line",
      data: {
        datasets: [
          {
            label: `${p.right.name}（右軸）`,
            data: p.right.series.map(([x, y]) => ({ x, y })),
            yAxisID: "yR",
            borderColor: RED,
            borderWidth: 2.7,
            borderDash: [2.7, 3.4],
            pointRadius: 0,
            tension: 0,
            order: 0,
          },
          {
            label: `${p.left.name}（左軸）`,
            data: p.left.series.map(([x, y]) => ({ x, y })),
            yAxisID: "yL",
            borderColor: "#000",
            borderWidth: 3.8,
            borderJoinStyle: "round",
            pointRadius: 0,
            tension: 0,
            order: 1,
          },
        ],
      },
      options: {
        responsive: false,
        maintainAspectRatio: false,
        animation: false,
        events: [],
        layout: { padding: { top: PAD_T, left: 0, right: 0, bottom: 0 } },
        plugins: { legend: { display: false }, tooltip: { enabled: false } },
        scales: {
          x: {
            type: "linear",
            min: 0,
            max: p.xMax,
            grid: { display: false, drawTicks: false },
            border: { display: false },
            afterBuildTicks: (s: any) => {
              s.ticks = xTickMonths.map((v) => ({ value: v }));
            },
            afterFit: (s: any) => {
              s.height = AX_H;
            },
            ticks: {
              autoSkip: false,
              maxRotation: 0,
              padding: 13,
              color: "#000",
              font: TICK_FONT,
              callback: (_v: number, i: number) => xTickLabels[i],
            },
          },
          yL: yScale(p.left, "left"),
          yR: yScale(p.right, "right"),
        },
      } as any,
      plugins: [makeDecor(p)],
    });

    // Size the canvas so the plot area lands exactly on the panel rectangle
    const a = chart.chartArea;
    const dw = p.plot.r - p.plot.l - (a.right - a.left);
    const dh = p.plot.b - p.plot.t - (a.bottom - a.top);
    if (Math.abs(dw) > 0.25 || Math.abs(dh) > 0.25) {
      chart.resize(Math.round(chart.width + dw), Math.round(chart.height + dh));
    }
    const b = chart.chartArea;
    canvas.style.width = `${chart.width}px`;
    canvas.style.height = `${chart.height}px`;
    canvas.style.left = `${p.plot.l - b.left}px`;
    canvas.style.top = `${p.plot.t - b.top}px`;

    return () => chart.destroy();
  }, [p]);

  return (
    <canvas
      ref={ref}
      width={w}
      height={h}
      style={{ position: "absolute", left: p.plot.l - AX_W, top: p.plot.t - PAD_T, width: w, height: h }}
    />
  );
}

export default function App() {
  return (
    <div style={{ position: "absolute", left: 0, top: 0, width: 1333, height: 1502, background: "#fff", overflow: "hidden" }}>
      {panels.map((p, i) => (
        <Panel key={i} p={p} />
      ))}
      {titles.map((t, i) => (
        <div
          key={`t${i}`}
          style={{
            position: "absolute",
            left: t.x - 300,
            top: t.y - 18,
            width: 600,
            height: 36,
            lineHeight: "36px",
            textAlign: "center",
            fontFamily: JP,
            fontWeight: 700,
            fontSize: 29,
            letterSpacing: `${t.sp}px`,
            fontFeatureSettings: '"palt"',
            whiteSpace: "nowrap",
            color: "#000",
          }}
        >
          {t.text}
        </div>
      ))}
      {captions.map((c, i) => (
        <div
          key={`c${i}`}
          style={{
            position: "absolute",
            left: c.x,
            top: c.y - 12,
            height: 24,
            lineHeight: "24px",
            fontFamily: `${LATIN}, 'Noto Sans CJK JP'`,
            fontSize: 17,
            letterSpacing: "1px",
            whiteSpace: "nowrap",
            color: "#000",
          }}
        >
          {c.text}
        </div>
      ))}
      <div style={{ position: "absolute", left: 1327, top: 0, width: 5, height: 1502, background: "#FFC000" }} />
    </div>
  );
}
